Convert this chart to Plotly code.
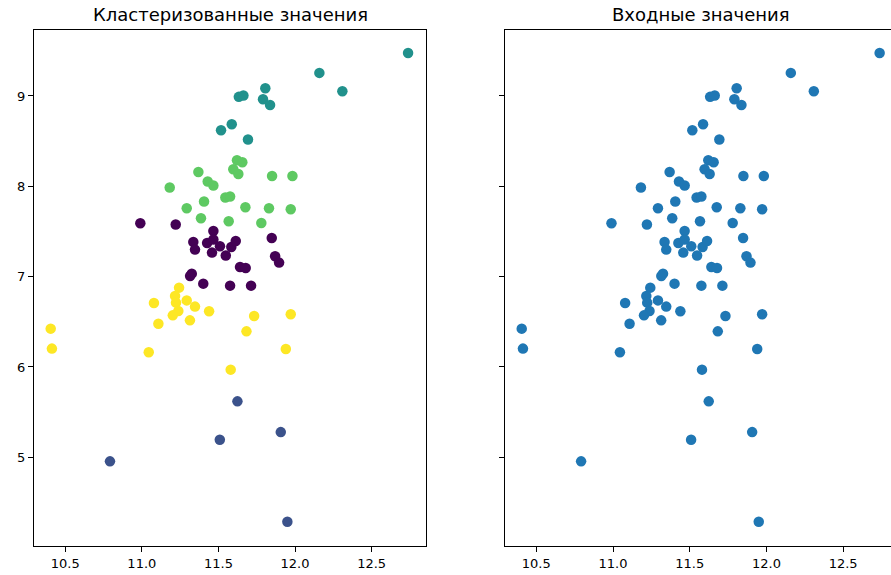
import plotly.graph_objects as go

# Points: (x, y) pairs and their cluster labels
x_vals = [
    # cluster 2
    12.738, 12.159, 12.309, 11.806, 11.633, 11.663, 11.791, 11.837, 11.587, 11.517, 11.693,
    # cluster 3
    11.369, 11.182, 11.430, 11.467, 11.621, 11.656, 11.597, 11.630, 11.850, 11.983,
    11.545, 11.576, 11.406, 11.293, 11.676, 11.830, 11.972, 11.386, 11.567, 11.780,
    # cluster 0
    10.990, 11.221, 11.467, 11.336, 11.347, 11.426, 11.467, 11.458, 11.510, 11.548, 11.584,
    11.613, 11.848, 11.870, 11.896, 11.641, 11.678, 11.326, 11.315, 11.401, 11.576, 11.713,
    # cluster 4
    11.243, 11.217, 11.223, 11.079, 11.293, 11.347, 11.238, 11.202, 11.439, 11.314,
    11.108, 11.733, 11.972, 11.683, 10.405, 10.413, 11.045, 11.940, 11.580,
    # cluster 1
    11.624, 11.509, 11.907, 10.792, 11.950,
]
y_vals = [
    9.476, 9.255, 9.052, 9.085, 8.990, 9.005, 8.963, 8.900, 8.687, 8.620, 8.517,
    8.158, 7.986, 8.052, 8.008, 8.288, 8.266, 8.188, 8.136, 8.114, 8.114,
    7.875, 7.886, 7.831, 7.757, 7.767, 7.757, 7.745, 7.646, 7.612, 7.594,
    7.590, 7.576, 7.505, 7.383, 7.299, 7.372, 7.410, 7.266, 7.336, 7.233, 7.328,
    7.394, 7.428, 7.225, 7.155, 7.106, 7.095, 7.033, 7.007, 6.922, 6.900, 6.900,
    6.878, 6.785, 6.712, 6.708, 6.737, 6.668, 6.619, 6.571, 6.616, 6.516,
    6.479, 6.564, 6.583, 6.394, 6.424, 6.203, 6.162, 6.198, 5.970,
    5.619, 5.195, 5.279, 4.955, 4.287,
]
labels = [2] * 11 + [3] * 20 + [0] * 22 + [4] * 19 + [1] * 5

titles = ["Кластеризованные значения", "Входные значения"]

viridis5 = {0: "#440154", 1: "#3b528b", 2: "#21918c", 3: "#5ec962", 4: "#fde725"}
point_colors = [viridis5[k] for k in labels]

W, H = 891, 575
ML, MR, MT, MB = 34, 0, 30, 29
plot_w = W - ML - MR

def px_to_paper(px):
    return (px - ML) / plot_w

left_dom = [0.0, px_to_paper(426)]
right_dom = [px_to_paper(505), 1.0]

x_range_left = [10.296, 12.855]
x_range_right = [10.296, 12.812]
y_range = [4.018, 9.73]

fig = go.Figure()
fig.add_trace(go.Scatter(
    x=x_vals, y=y_vals, mode="markers", xaxis="x", yaxis="y",
    marker=dict(size=10.5, color=point_colors, line=dict(width=0)),
    showlegend=False,
))
fig.add_trace(go.Scatter(
    x=x_vals, y=y_vals, mode="markers", xaxis="x2", yaxis="y2",
    marker=dict(size=10.5, color="#1f77b4", line=dict(width=0)),
    showlegend=False,
))

axis_font = dict(family="DejaVu Sans", size=13, color="black")
common_x = dict(
    showgrid=False, zeroline=False, showline=True, linecolor="black", linewidth=1,
    ticks="outside", ticklen=5, tickcolor="black", tickwidth=1,
    dtick=0.5, tick0=10.5, tickformat=".1f", tickfont=axis_font, mirror=True,
)
common_y = dict(
    showgrid=False, zeroline=False, showline=True, linecolor="black", linewidth=1,
    ticks="outside", ticklen=5, tickcolor="black", tickwidth=1,
    dtick=1, tick0=5, tickfont=axis_font,
)

fig.update_layout(
    width=W, height=H,
    margin=dict(l=ML, r=MR, t=MT, b=MB, pad=0),
    paper_bgcolor="white", plot_bgcolor="white",
    font=dict(family="DejaVu Sans", color="black"),
    xaxis=dict(domain=left_dom, range=x_range_left, anchor="y", **common_x),
    yaxis=dict(domain=[0, 1], range=y_range, anchor="x", mirror=True, **common_y),
    xaxis2=dict(domain=right_dom, range=x_range_right, anchor="y2", **common_x),
    yaxis2=dict(domain=[0, 1], range=y_range, anchor="x2", mirror=False,
                showticklabels=False, **common_y),
)

title_centers = [px_to_paper((34 + 426) / 2), px_to_paper((505 + 897) / 2)]
for cx, txt in zip(title_centers, titles):
    fig.add_annotation(
        x=cx, y=1, xref="paper", yref="paper", xanchor="center", yanchor="bottom",
        yshift=3, text=txt, showarrow=False,
        font=dict(family="DejaVu Sans", size=18, color="black"),
    )

fig.write_html("out.html")
